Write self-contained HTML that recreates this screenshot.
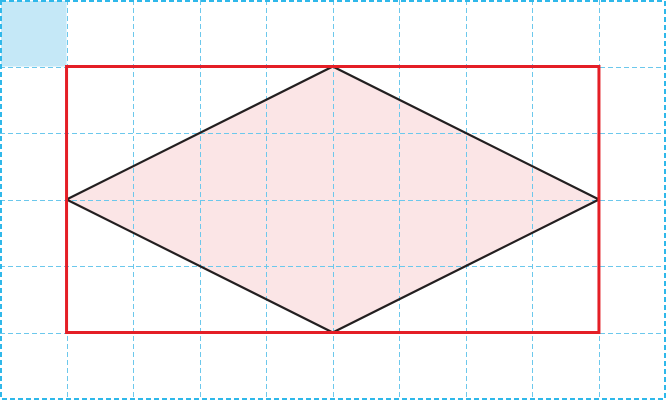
<!DOCTYPE html>
<html><head><meta charset="utf-8"><style>html,body{margin:0;padding:0;background:#fff}svg{display:block}</style></head>
<body>
<svg id="fig" width="666" height="400" viewBox="0 0 666 400" xmlns="http://www.w3.org/2000/svg">
<g id="g"></g>
</svg>
<script>
const gridCols = [0,1,2,3,4,5,6,7,8,9,10];
const gridRows = [0,1,2,3,4,5,6];
const highlightCell = [0,0];
const rectCorners = [[1,1],[9,5]];
const rhombusX = [1,5,9,5];
const rhombusY = [3,1,3,5];
const W=666,H=400,cw=66.55,ch=66.5;
const sx=v=>v*cw, sy=v=>v*ch;
const NS='http://www.w3.org/2000/svg';
const g=document.getElementById('g');
function mk(t,a){const e=document.createElementNS(NS,t);for(const k in a)e.setAttribute(k,a[k]);g.appendChild(e);return e;}
let e=mk('rect',{x:sx(highlightCell[0])+1,y:sy(highlightCell[1])+1,width:cw-1,height:ch-1,fill:'#c5e8f7'});


const pts=rhombusX.map((x,i)=>sx(x)+','+sy(rhombusY[i])).join(' ');
e=mk('polygon',{points:pts,fill:'#fbe5e6',stroke:'none'});


gridCols.forEach(c=>{if(c===0||c===10)return;const x=Math.round(sx(c))+0.5;
 const l=mk('line',{x1:x,y1:0,x2:x,y2:H,stroke:'#6cc8ec','stroke-width':1,'stroke-dasharray':'5,3'});
 
 });
gridRows.forEach(r=>{if(r===0||r===6)return;const y=Math.round(sy(r))+0.5;
 const l=mk('line',{x1:0,y1:y,x2:W,y2:y,stroke:'#6cc8ec','stroke-width':1,'stroke-dasharray':'5,3'});
 
 });
e=mk('rect',{x:1,y:1,width:W-2,height:H-2,fill:'none',stroke:'#2fb8ea','stroke-width':2,'stroke-dasharray':'5,3'});


e=mk('polygon',{points:pts,fill:'none',stroke:'#231f20','stroke-width':2.2,'stroke-linejoin':'round'});


e=mk('rect',{x:sx(rectCorners[0][0]),y:sy(rectCorners[0][1]),width:sx(rectCorners[1][0]-rectCorners[0][0]),height:sy(rectCorners[1][1]-rectCorners[0][1]),fill:'none',stroke:'#e41e26','stroke-width':3});


</script>
</body></html>
